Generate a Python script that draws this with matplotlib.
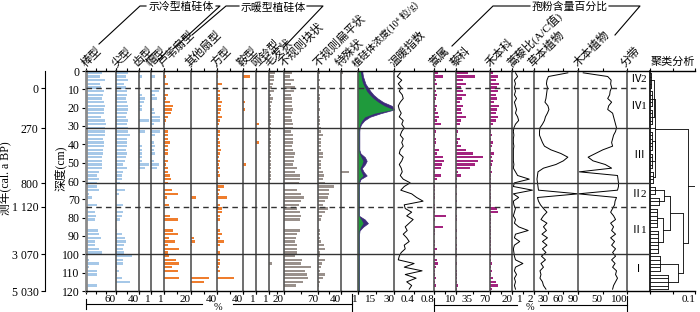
import numpy as np
import matplotlib.pyplot as plt
from matplotlib.lines import Line2D

plt.rcParams['font.family'] = ['Liberation Serif', 'Noto Sans CJK SC', 'DejaVu Sans']

# sample depths (cm), one every 2 cm
depth = np.arange(1, 120, 2)

# phytolith percentages
bang = [31, 28, 38, 27, 30, 35, 33, 31, 35, 37, 36, 35, 30, 37, 40, 38, 38, 38, 34, 36,
        35, 33, 34, 32, 31, 31, 31, 25, 21, 25, 21, 21, 25, 5, 11, 0, 21, 0, 18, 20,
        18, 0, 0, 23, 25, 29, 18, 18, 25, 31, 1, 5, 25, 5, 21, 21, 0, 0, 21, 0]
jian = [22, 18, 22, 15, 18, 20, 20, 18, 20, 22, 22, 20, 18, 22, 20, 22, 22, 25, 20, 20,
        20, 18, 20, 18, 16, 13, 19, 12, 10, 10, 8, 0, 16, 6, 0, 0, 13, 0, 12, 11,
        8, 0, 0, 2, 10, 16, 18, 14, 13, 14, 28, 13, 12, 2, 6, 2, 10, 25, 0, 0]
chi = [0, 0.27, 0, 0, 0, 0, 0.27, 0.5, 0.4, 0.27, 0.3, 0, 0, 0.8, 0, 0, 0.5, 0, 0, 0,
       0.27, 0.27, 0.27, 0.27, 0.3, 0.8, 0.5, 0, 0, 0] + [0] * 30
mao = [0, 0.35, 0, 0, 0, 0.6, 0.35, 0.45, 0, 0, 0.2, 0.3, 0.75, 0.75, 0.2, 0, 0.75, 0.35, 0, 0.25,
       0.35, 0.25, 0.35, 0, 0.25, 0.6, 0.5, 0, 0, 0] + [0] * 30
luwei = [1.2, 2, 0, 3, 0, 1.2, 3, 2, 5, 7.4, 6, 5.4, 3, 2, 1.2, 0, 3.7, 3, 3, 5,
         3, 3.7, 3, 1.2, 3, 2, 3.7, 3, 5, 5.4, 3.7, 0, 6, 11, 2.5, 0, 4.4, 0, 0, 5,
         11, 0, 0, 7.4, 10.6, 4.4, 8.6, 3, 11.6, 3.7, 4.4, 9.4, 11.6, 6, 11, 0, 11.8, 0, 0, 0]
qita = [1, 1, 1, 1, 0, 1, 1, 1, 1.5, 1, 1, 1, 1, 1, 1, 0, 1, 1, 1, 1,
        1, 1, 1, 1, 1, 1, 1, 1, 1, 1, 1, 0, 1, 1, 9, 0, 1, 0, 1.5, 1.5,
        1, 0, 0, 1, 1, 5, 7.5, 3, 1, 1, 1, 1, 1, 1, 1.5, 0, 28, 20, 0, 0]
fang = [3, 2, 0, 9, 0, 5, 6, 5, 9, 7, 7, 6, 9, 5, 4, 0, 6, 5, 4, 6,
        5, 7, 5, 4, 5, 4, 6, 4, 5, 2, 3, 11, 5, 4, 16, 0, 6, 8, 9, 6,
        5, 0, 0, 6, 9, 6, 12, 5, 0, 6, 0, 6, 5, 4, 5, 0, 26, 0, 0, 0]
an = [0, 0.53, 0, 0, 0, 0, 0, 0, 0.2, 0, 0.15, 0, 0, 0, 0, 0, 0, 0, 0, 0,
      0, 0, 0, 0, 0, 0.25, 0, 0, 0, 0] + [0] * 30
yaling = [0] * 14 + [0.2] + [0] * 4 + [0.25] + [0] * 40
maofa = [8, 6, 7, 5, 4, 6, 3, 5, 4, 3, 2, 3, 2, 2, 3, 2, 2, 3, 2, 2,
         2, 3, 2, 2, 2, 3, 2, 2, 2, 2, 1, 0, 0, 0, 0, 0, 0, 0, 0, 0,
         0, 0, 0, 0, 0, 0, 0, 0, 0, 0, 0, 0, 3.6, 0, 0, 0, 0, 0, 0, 0]
kuai = [16, 12, 20, 14, 23, 20, 14, 16, 16, 16, 18, 16, 14, 16, 19, 19, 14, 18, 19, 19,
        16, 18, 23, 21, 21, 19, 26, 23, 33, 32, 30, 0, 27, 36, 41, 36, 30, 26, 33, 34,
        33, 0, 0, 33, 26, 25, 23, 26, 26, 26, 23, 38, 34, 55, 43, 47, 50, 40, 25, 0]
bian = [4, 2, 3, 2, 3, 2, 3, 4, 3, 2, 3, 2, 3, 4, 3, 5, 6, 8, 6, 5,
        6, 6, 8, 8, 6, 5, 6, 8, 10, 8, 12, 29, 20, 20, 18, 12, 8, 17, 12, 7,
        5, 0, 0, 3, 3, 4, 5, 10, 12, 4, 3, 12, 7, 6, 3, 12, 9, 3, 2, 0]
teshu = [0.15] + [0] * 26 + [0.5] + [0] * 32

# phytolith concentration (10^4 grains/g): two stacked parts
conc_g = [2.5, 3, 3.5, 4.5, 6, 7.5, 10, 13, 17, 22, 29, 14, 6, 3.5, 2, 1.2, 1, 1, 1, 1,
          1, 1, 1.5, 3, 4.5, 3.5, 2, 3, 4.5, 1.5, 1, 1, 1, 1, 1, 1, 1, 1, 1, 1,
          3, 4.5, 2.5, 1.2, 1, 1, 1, 1, 1, 1, 1, 1, 1, 1, 1, 1, 1, 1, 1, 1]
conc_p = [1.5, 1.5, 2, 2, 2.5, 3, 3, 3.5, 4, 6, 1, 5, 4, 2, 1, 0.5, 0.5, 0.5, 0.5, 0.5,
          0.5, 0.5, 1, 3, 3, 2.5, 1.5, 2, 3, 1] + [0.3] * 10 + [3, 4, 2, 0.5] + [0.3] * 16

warm = [0.12, 0.06, 0.15, 0.08, 0.14, 0.1, 0.16, 0.18, 0.12, 0.08, 0.1, 0.14, 0.1, 0.18, 0.15,
        0.2, 0.15, 0.12, 0.18, 0.15, 0.18, 0.12, 0.1, 0.18, 0.15, 0.1, 0.14, 0.16, 0.12, 0.18,
        0.32, 0.2, 0.13, 0.35, 0.45, 0.58, 0.2, 0.22, 0.35, 0.25, 0.38, 0.3, 0.22, 0.26, 0.18,
        0.25, 0.3, 0.2, 0.22, 0.14, 0.1, 0.08, 0.4, 0.2, 0.56, 0.22, 0.44, 0.25, 0.35, 0.3]

# pollen percentages
hao = [2, 4, 1, 1.5, 0.5, 1, 1.5, 1, 0.5, 1.5, 1, 2, 2.5, 1.5, 3, 0, 1, 0.5, 1, 1,
       0.5, 2.5, 1.5, 4, 4.5, 3.5, 3, 0.5, 3, 1.5, 0, 0.5, 0.5, 0.5, 0.5, 0, 0.5, 0.5, 0.5, 5.5,
       0.5, 0, 4.3, 0.5, 0.5, 0, 0.5, 0.5, 1.5, 0.5, 0.5, 1.5, 2, 1, 0.5, 0.5, 1, 0.5, 1, 0]
li = [25, 40, 15, 20, 10, 15, 20, 12, 8, 15, 10, 12, 20, 10, 8, 0, 5, 3, 8, 5,
      10, 22, 35, 56, 45, 40, 29, 5, 10, 3, 0, 2, 1, 2, 1, 2, 1, 2, 1, 2,
      2, 1, 0, 2, 1, 2, 1, 2, 2, 1, 2, 1, 2, 1, 2, 2, 3, 2, 4, 2]
he = [3, 7, 5, 8, 6, 7, 5, 6, 4, 8, 6, 5, 7, 5, 3, 0, 1, 2, 1, 3,
      2, 1, 4, 2, 3, 2, 1, 2, 1, 1, 1, 1, 1, 1, 1, 1, 1, 6, 7.5, 1,
      1, 1, 1, 1, 1, 1, 1, 1, 1, 1, 1, 1, 2, 1, 2, 1, 3, 5, 7, 2]
ac = [0.3, 0.5, 0.2, 0.3, 0.2, 0.3, 0.2, 0.4, 0.2, 0.3, 0.4, 0.3, 0.5, 0.6, 0.3,
      0.15, 0.1, 0.15, 0.1, 0.1, 0.15, 0.1, 0.1, 0.1, 0.1, 0.15, 0.1, 0.3, 0.5, 1.6,
      0.2, 0.1, 1.9, 0.1, 0.6, 0.1, 0.15, 0.3, 0.2, 0.1, 0.3, 0.2, 0.6, 1.5, 0.3,
      0.2, 0.7, 0.2, 0.1, 0.15, 0.2, 0.3, 1.0, 0.3, 0.2, 0.4, 0.2, 0.3, 0.2, 0.3]
herb = [69, 30, 27, 26, 28, 27, 26, 25, 23, 29, 31, 28, 24, 22, 18, 13, 12, 12, 15, 18,
        22, 35, 55, 69, 60, 45, 20, 9, 8, 7, 8, 9, 10, 90, 8, 10, 14, 20, 27, 20,
        15, 27, 20, 26, 17, 28, 18, 27, 18, 25, 16, 24, 15, 20, 13, 15, 13, 18, 20, 25]
wood = [10, 60, 67, 66, 68, 65, 64, 60, 68, 62, 60, 70, 72, 74, 76, 78, 76, 72, 70, 68,
        70, 50, 35, 20, 30, 55, 68, 2, 80, 81, 82, 82, 80, 0, 78, 75, 74, 70, 66, 72,
        76, 66, 72, 68, 76, 66, 74, 68, 76, 70, 76, 68, 75, 70, 78, 76, 80, 76, 72, 70]

# zones and ages
zone_names = ['Ⅳ2', 'Ⅳ1', 'Ⅲ', 'Ⅱ2', 'Ⅱ1', 'Ⅰ']
zone_mid = [4.5, 19.5, 46, 67.5, 87, 108]
solid_bounds = [31.3, 61.3, 100]
dash_bounds = [9.3, 74]
age_depth = [9.3, 31.3, 61.3, 74, 100, 120]
age_labels = ['0', '270', '800', '1 120', '3 070', '5 030']

# cluster tree: contiguous depth ranges and joining distance
clu_top = [1, 11, 21, 33, 45, 55, 1, 33, 1, 63, 69, 75, 87, 63, 75, 63, 101, 111, 101, 63, 1]
clu_bot = [9, 19, 29, 43, 53, 61, 29, 61, 61, 67, 73, 85, 99, 73, 99, 99, 109, 119, 119, 119, 119]
clu_h = [0.003, 0.004, 0.004, 0.005, 0.005, 0.006, 0.008, 0.01, 0.012, 0.012, 0.02, 0.015,
         0.018, 0.03, 0.028, 0.045, 0.022, 0.04, 0.062, 0.073, 0.085]

BLUE = '#a6c8e8'
ORANGE = '#ef7d2d'
GREY = '#9a918c'
PURPLE = '#a3237f'
GREEN = '#1f9a3c'
DARKP = '#3b2a78'

W, H = 700, 312
TOP, BOT = 71, 291
fig = plt.figure(figsize=(7, 3.12), dpi=100)


def panel(x0, x1, xmax, major, minor, xmin=0):
    ax = fig.add_axes([x0 / W, 1 - BOT / H, (x1 - x0) / W, (BOT - TOP) / H])
    ax.set_ylim(120, 0)
    ax.set_xlim(xmin, xmax)
    ax.set_yticks([])
    ax.set_xticks(major)
    ax.set_xticklabels([('%g' % v) for v in major], ha='right', fontsize=8)
    ax.set_xticks(minor, minor=True)
    ax.tick_params(axis='x', which='both', top=True, direction='out', length=2.5,
                   width=0.8, pad=0.3)
    ax.tick_params(axis='x', which='minor', length=2)
    ax.spines['right'].set_visible(False)
    ax.spines['left'].set_color('#555555')
    ax.spines['left'].set_linewidth(1.2)
    for s in ('top', 'bottom'):
        ax.spines[s].set_linewidth(1.0)
    ax.patch.set_alpha(0)
    return ax


def header(x, text, size=8.2):
    fig.text((x + 1) / W, 1 - 69 / H, text, rotation=45, ha='left', va='bottom',
             rotation_mode='anchor', fontsize=size)


bar_h = 1.3
bar_panels = [
    ('棒型', 86, 116, 60, bang, BLUE, [60], [0, 20, 40]),
    ('尖型', 116, 138.5, 40, jian, BLUE, [40], [0, 20]),
    ('齿型', 138.5, 151, 1, chi, BLUE, [1], [0]),
    ('帽型', 151, 163.5, 1, mao, BLUE, [1], [0]),
    ('芦苇扇型', 163.5, 190.5, 20, luwei, ORANGE, [20], [0, 10]),
    ('其他扇型', 190.5, 216.5, 40, qita, ORANGE, [40], [0, 20]),
    ('方型', 216.5, 242.7, 40, fang, ORANGE, [40], [0, 20]),
    ('鞍型', 242.7, 256, 1, an, ORANGE, [1], [0]),
    ('哑铃型', 256, 269, 1, yaling, ORANGE, [1], [0]),
    ('毛发状', 269, 284, 20, maofa, GREY, [20], [0, 10]),
    ('不规则块状', 284, 318, 70, kuai, GREY, [70], [0, 35]),
    ('不规则扁平状', 318, 340.7, 40, bian, GREY, [40], [0, 20]),
    ('特殊状', 340.7, 357.5, 1, teshu, GREY, [1], [0]),
]
for name, x0, x1, xmax, vals, col, major, minor in bar_panels:
    ax = panel(x0, x1, xmax, major, minor)
    ax.barh(depth, vals, height=bar_h, color=col, linewidth=0)
    header(x0, name)
    if name == '棒型':
        ax.spines['left'].set_color('#8a8a8a')
        ax.spines['left'].set_linewidth(2)
        ax.set_yticks(np.arange(0, 121, 10))
        ax.tick_params(axis='y', direction='out', length=3, labelsize=8.5, pad=1.5)

# concentration
dd = np.r_[0, depth, 120]
g = np.r_[conc_g[0], conc_g, conc_g[-1]]
p = g + np.r_[conc_p[0], conc_p, conc_p[-1]]
ax = panel(357.5, 394.3, 30, [15, 30], [0])
ax.fill_betweenx(dd, p, 0, color=DARKP, lw=0.5)
ax.fill_betweenx(dd, g, 0, color=GREEN, lw=0)
header(357.5, '植硅体浓度(10⁴ 粒/g)', 7.0)

# warmth index
ax = panel(394.3, 434, 0.8, [0.4, 0.8], [0])
ax.plot(warm, depth, color='k', lw=0.7)
header(394.3, '温暖指数')

pollen_bars = [
    ('蒿属', 434, 455.7, 10, hao, [10], [0, 5]),
    ('藜科', 455.7, 490, 70, li, [35, 70], [0]),
    ('禾本科', 490, 512.3, 20, he, [20], [0, 10]),
]
for name, x0, x1, xmax, vals, major, minor in pollen_bars:
    ax = panel(x0, x1, xmax, major, minor)
    ax.barh(depth, vals, height=bar_h, color=PURPLE, linewidth=0)
    header(x0, name)

ax = panel(512.3, 533.5, 2, [1, 2], [0])
ax.plot(ac, depth, color='k', lw=0.7)
header(512.3, '蒿藜比(A/C值)')

ax = panel(533.5, 578.3, 90, [30, 60, 90], [0])
ax.plot(herb, depth, color='k', lw=0.7)
header(533.5, '草本植物')

ax = panel(578.3, 627.3, 100, [50, 100], [0])
ax.plot(wood, depth, color='k', lw=0.7)
header(578.3, '木本植物')

# zones
ax = panel(627.3, 650, 1, [], [])
ax.tick_params(axis='x', which='both', length=0)
for name, mid in zip(zone_names, zone_mid):
    ax.text(0.5, mid, name, ha='center', va='center', fontsize=8)
header(625, '分带')

# dendrogram
ax = panel(650, 695, 0.1, [0.1], [0, 0.05])
ax.spines['left'].set_color('k')
active = {(d, d): (d, 0.0) for d in depth}
order = sorted(zip(clu_top, clu_bot, clu_h), key=lambda c: c[2])
for top, bot, h in order:
    kids = [k for k in active if top <= k[0] and k[1] <= bot]
    ys = []
    for k in kids:
        y, hk = active.pop(k)
        ax.plot([hk, h], [y, y], color='k', lw=0.6, solid_capstyle='butt')
        ys.append(y)
    ax.plot([h, h], [min(ys), max(ys)], color='k', lw=0.6)
    active[(top, bot)] = ((min(ys) + max(ys)) / 2, h)
root_y, root_h = active[(1, 119)]
ax.plot([root_h, 0.1], [root_y, root_y], color='k', lw=0.6)
fig.text(651 / W, 1 - 62 / H, '聚类分析', fontsize=8, ha='left', va='center')

# zone boundary lines across the panels
ov = fig.add_axes([86 / W, 1 - BOT / H, (650 - 86) / W, (BOT - TOP) / H])
ov.set_ylim(120, 0)
ov.set_xlim(0, 1)
ov.axis('off')
for b in solid_bounds:
    ov.axhline(b, color='#333333', lw=1.0)
for b in dash_bounds:
    ov.axhline(b, color='#333333', lw=1.0, ls=(0, (4, 3)))

# age axis
ag = fig.add_axes([45 / W, 1 - BOT / H, 1 / W, (BOT - TOP) / H])
ag.set_ylim(120, 0)
ag.set_xticks([])
for s in ('top', 'right', 'bottom'):
    ag.spines[s].set_visible(False)
ag.set_yticks(age_depth)
ag.set_yticklabels(age_labels, fontsize=8.5)
ag.tick_params(axis='y', direction='out', length=3, pad=1.5)
ag.patch.set_alpha(0)

fig.text(6 / W, 1 - 178 / H, '测年(cal. a BP)', rotation=90, ha='center', va='center', fontsize=8.5)
fig.text(60 / W, 1 - 168 / H, '深度(cm)', rotation=90, ha='center', va='center', fontsize=8.5)


def fline(xs, ys, lw=0.8):
    fig.add_artist(Line2D([x / W for x in xs], [1 - y / H for y in ys], color='k', lw=lw))


# group brackets
fig.text(181 / W, 1 - 7 / H, '示冷型植硅体', ha='center', va='center', fontsize=7.8)
fline([146, 140, 99], [6, 6, 44])
fline([216, 220, 173], [6, 6, 49])
fig.text(273 / W, 1 - 7 / H, '示暖型植硅体', ha='center', va='center', fontsize=7.8)
fline([239, 226, 192], [6, 6, 35])
fline([307, 323, 284], [6, 6, 47])
fig.text(570 / W, 1 - 7 / H, '孢粉含量百分比', ha='center', va='center', fontsize=7.8)
fline([530, 493, 452], [6, 6, 46])
fline([609, 640, 615], [6, 6, 35])

# percent scale bars
fline([86, 202], [304, 304])
fline([86, 86], [299, 309])
fig.text(218 / W, 1 - 307.5 / H, '%', ha='center', va='center', fontsize=7.5)
fline([233, 352], [304, 304])
fline([352, 352], [294, 311])
fline([434, 517], [305, 305])
fline([434, 434], [298, 311])
fig.text(530 / W, 1 - 307.5 / H, '%', ha='center', va='center', fontsize=7.5)
fline([540, 627], [305, 305])
fline([627, 627], [296, 311])

fig.savefig('out.png', dpi=100)
